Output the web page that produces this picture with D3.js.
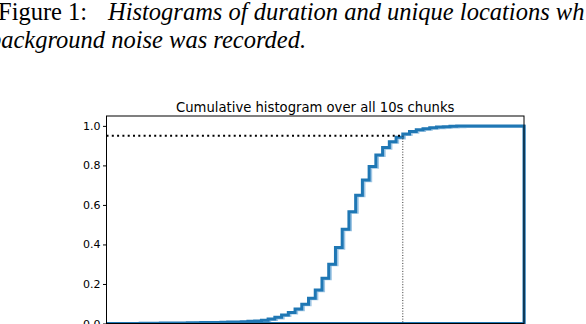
<!DOCTYPE html>
<html>
<head>
<meta charset="utf-8">
<script src="https://cdn.jsdelivr.net/npm/d3@7"></script>
<style>
  html, body { margin: 0; padding: 0; background: #fff; overflow: hidden; }
  svg { display: block; }
  .caption { font-family: "Liberation Serif", "Times New Roman", serif; font-size: 24.5px; fill: #000; }
  .axis text { font-family: "DejaVu Sans", sans-serif; font-size: 11px; fill: #000; }
  .title { font-family: "DejaVu Sans", sans-serif; font-size: 13.2px; fill: #000; }
</style>
</head>
<body>
<svg id="chart" width="586" height="324"></svg>
<script>
// Cumulative fraction of chunks per bin (62 equal-width bins)
var cumulative = [
    0, 0, 0, 0.0005, 0.0005, 0.001, 0.001, 0.0015, 0.002, 0.002,
    0.0025, 0.003, 0.0035, 0.004, 0.0045, 0.005, 0.0055, 0.006, 0.007, 0.008,
    0.009, 0.011, 0.013, 0.016, 0.023, 0.031, 0.043, 0.056, 0.073, 0.098,
    0.128, 0.169, 0.229, 0.300, 0.384, 0.477, 0.566, 0.649, 0.726, 0.794,
    0.853, 0.890, 0.920, 0.942, 0.959, 0.971, 0.980, 0.986, 0.991, 0.994,
    0.996, 0.998, 0.999, 0.9995, 0.9997, 0.9998, 0.9999, 1, 1, 1,
    1, 1
];
var yTicks = [0, 0.2, 0.4, 0.6, 0.8, 1.0];
var threshold = 0.95;     // horizontal dotted reference
var thresholdEdge = 44;   // bin edge where the curve crosses it

var captionLabel = 'Figure 1:';
var captionLine1 = 'Histograms of duration and unique locations wh';
var captionLine2 = 'background noise was recorded.';
var title = 'Cumulative histogram over all 10s chunks';

var svg = d3.select('#chart');

var plot = { left: 106.5, right: 524, top: 116, bottom: 323.5 };

var x = d3.scaleLinear()
    .domain([0, cumulative.length])
    .range([plot.left, plot.right]);

var y = d3.scaleLinear()
    .domain([0, 1.05])
    .range([plot.bottom, plot.top]);

// caption above the figure (cut at the page edges like the scan)
svg.append('text')
    .attr('class', 'caption')
    .attr('x', -2)
    .attr('y', 19.5)
    .text(captionLabel);

svg.append('text')
    .attr('class', 'caption')
    .style('font-style', 'italic')
    .attr('x', 108)
    .attr('y', 19.5)
    .text(captionLine1);

svg.append('text')
    .attr('class', 'caption')
    .style('font-style', 'italic')
    .attr('x', -11)
    .attr('y', 47.5)
    .text(captionLine2);

// title
svg.append('text')
    .attr('class', 'title')
    .attr('x', (plot.left + plot.right) / 2)
    .attr('y', 112)
    .attr('text-anchor', 'middle')
    .text(title);

// build the step outline like a matplotlib 'step' histogram
var pts = [[0, 0]];
cumulative.forEach(function(v, i) {
    pts.push([i, v]);
    pts.push([i + 1, v]);
});
pts.push([cumulative.length, 0]);
pts.push([0, 0]);

var line = d3.line()
    .x(function(d) { return x(d[0]); })
    .y(function(d) { return y(d[1]); });

svg.append('clipPath').attr('id', 'clip')
    .append('rect')
    .attr('x', plot.left)
    .attr('y', plot.top)
    .attr('width', plot.right - plot.left + 2)
    .attr('height', plot.bottom - plot.top + 2);

var g = svg.append('g').attr('clip-path', 'url(#clip)');

// faint ghost copy slightly to the right, as in the scan
g.append('path')
    .attr('d', line(pts))
    .attr('transform', 'translate(1.6,0.6)')
    .attr('fill', 'none')
    .attr('stroke', '#9fc6e4')
    .attr('stroke-width', 3);

g.append('path')
    .attr('d', line(pts))
    .attr('fill', 'none')
    .attr('stroke', '#1f77b4')
    .attr('stroke-width', 3)
    .attr('stroke-linejoin', 'miter');

// reference lines
svg.append('line')
    .attr('x1', x(0))
    .attr('x2', x(thresholdEdge))
    .attr('y1', y(threshold))
    .attr('y2', y(threshold))
    .attr('stroke', '#000')
    .attr('stroke-width', 2)
    .attr('stroke-dasharray', '2,3.3');

svg.append('line')
    .attr('x1', x(thresholdEdge))
    .attr('x2', x(thresholdEdge))
    .attr('y1', y(threshold))
    .attr('y2', plot.bottom)
    .attr('stroke', '#333')
    .attr('stroke-width', 1)
    .attr('stroke-dasharray', '1,1.65');

// frame
svg.append('rect')
    .attr('x', plot.left)
    .attr('y', plot.top)
    .attr('width', plot.right - plot.left)
    .attr('height', plot.bottom - plot.top)
    .attr('fill', 'none')
    .attr('stroke', '#000')
    .attr('stroke-width', 1);

// y axis
var yAxis = d3.axisLeft(y)
    .tickValues(yTicks)
    .tickFormat(d3.format('.1f'))
    .tickSize(3.5)
    .tickPadding(2.5);

svg.append('g')
    .attr('class', 'axis')
    .attr('transform', 'translate(' + plot.left + ',0)')
    .call(yAxis)
    .call(function(s) { s.select('.domain').remove(); });
</script>
</body>
</html>
